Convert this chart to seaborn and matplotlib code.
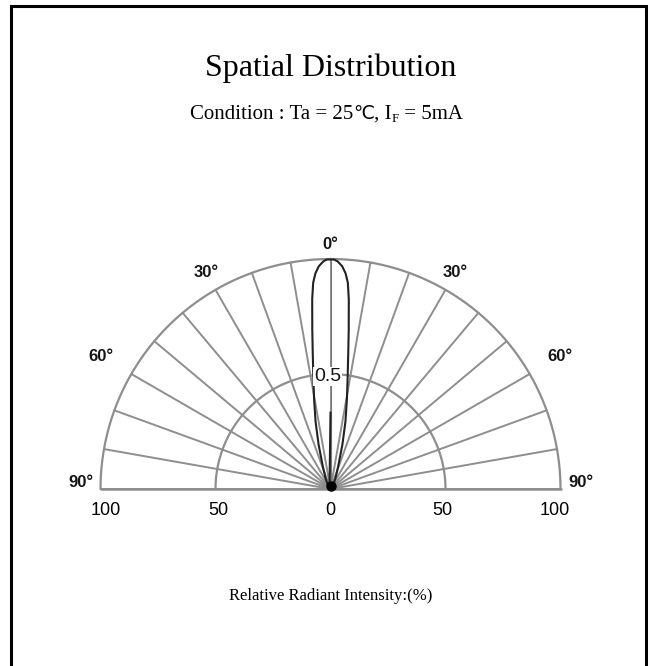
import numpy as np
import pandas as pd
import matplotlib
matplotlib.use("Agg")
import matplotlib.pyplot as plt
import seaborn as sns
from matplotlib.patches import Rectangle

sns.set_style("white")
plt.rcParams['text.color'] = 'black'

# lobe (one side, symmetric)
angle_deg = [0, 0.9, 1.8, 3, 4, 4.8, 5.5, 6.5, 7.4, 8.6, 10.3, 12.5, 15, 19, 25, 35, 60, 90]
rel_intensity = [1.0, 0.998, 0.99, 0.97, 0.94, 0.90, 0.83, 0.70, 0.60, 0.50, 0.40, 0.30,
                 0.20, 0.10, 0.05, 0.02, 0.005, 0.0]

grid_angles = list(range(-90, 91, 10))
grid_radii = [0.5, 1.0]
angle_labels = ['90°', '60°', '30°', '0°', '30°', '60°', '90°']
angle_label_pos = [-90, -60, -30, 0, 30, 60, 90]
angle_label_rad = [1.087, 1.15, 1.085, 1.065, 1.085, 1.15, 1.087]
x_tick_vals = [-1.0, -0.5, 0.0, 0.5, 1.0]
x_tick_labels = ['100', '50', '0', '50', '100']

W, H = 650, 666
fig = plt.figure(figsize=(W / 100, H / 100), dpi=100)

# border around the figure
fig.patches.append(Rectangle((11 / W, -0.01), (646 - 11) / W, 1 - 6 / H + 0.01,
                             transform=fig.transFigure, fill=False,
                             edgecolor='black', linewidth=2.2))

cx, cy, R = 330.5, 489, 230
xl, yb, yt = 1.25, 0.2, 1.15
ax = fig.add_axes([(cx - xl * R) / W, (H - (cy + yb * R)) / H,
                   2 * xl * R / W, (yb + yt) * R / H])
ax.set_xlim(-xl, xl)
ax.set_ylim(-yb, yt)
ax.set_aspect('equal')
ax.axis('off')

grid_col = '#8e8e8e'
t = np.linspace(-np.pi / 2, np.pi / 2, 300)
for r in grid_radii:
    ax.plot(r * np.sin(t), r * np.cos(t), color=grid_col, lw=1.6, zorder=1)
for a in grid_angles:
    th = np.radians(a)
    ax.plot([0, np.sin(th)], [0, np.cos(th)], color=grid_col, lw=1.4, zorder=1)
ax.plot([-1, 1], [0, 0], color=grid_col, lw=1.8, zorder=1)

# full lobe from the one-sided data
ang = np.array(angle_deg, dtype=float)
val = np.array(rel_intensity)
full_ang = np.concatenate([-ang[::-1], ang[1:]])
full_val = np.concatenate([val[::-1], val[1:]])
th = np.radians(full_ang)
df = pd.DataFrame({'x': full_val * np.sin(th), 'y': full_val * np.cos(th)})
sns.lineplot(data=df, x='x', y='y', sort=False, color='#222222', lw=1.5, ax=ax, zorder=3)
ax.plot([0], [0.015], marker='o', ms=6.5, color='black', zorder=4)

lab_font = ['Liberation Sans', 'DejaVu Sans']
for a, s, rr in zip(angle_label_pos, angle_labels, angle_label_rad):
    th = np.radians(a)
    yy = rr * np.cos(th) + (0.03 if abs(a) == 90 else 0)
    ax.text(rr * np.sin(th), yy, s, ha='center', va='center', fontsize=12,
            fontweight='bold', family=lab_font, color='#151515')

ax.text(-0.012, 0.49, '0.5', ha='center', va='center', fontsize=14,
        family=lab_font, color='#151515',
        bbox=dict(boxstyle='square,pad=0.05', fc='white', ec='none'), zorder=5)

for xv, s in zip(x_tick_vals, x_tick_labels):
    ax.text(xv * 0.976, -0.092, s, ha='center', va='center', fontsize=13,
            family=lab_font, color='black')

serif = ['Liberation Serif', 'DejaVu Serif']
fig.text(331 / W, 1 - 68 / H, 'Spatial Distribution', ha='center', va='center',
         fontsize=23, family=serif)

# condition line: pieces so the subscript F and the ℃ sign both render
cond_fs = 15
t1 = fig.text(190 / W, 1 - 119 / H, 'Condition : Ta = 25', ha='left',
              va='baseline', fontsize=cond_fs, family=serif)
tc = fig.text(0, 0, '℃', fontsize=cond_fs * 0.9, family=['DejaVu Sans'], va='baseline')
t1b = fig.text(0, 0, ', I', fontsize=cond_fs, family=serif, va='baseline')
t2 = fig.text(0, 0, 'F', fontsize=cond_fs * 0.62, family=serif, va='baseline')
t3 = fig.text(0, 0, ' = 5mA', fontsize=cond_fs, family=serif, va='baseline')
rend = fig.canvas.get_renderer()
prev = t1
for piece, yb_px in [(tc, 119), (t1b, 119), (t2, 122), (t3, 119)]:
    fig.canvas.draw()
    bb = prev.get_window_extent(rend)
    piece.set_position((bb.x1 / W, 1 - yb_px / H))
    prev = piece

fig.text(331 / W, 1 - 596 / H, 'Relative Radiant Intensity:(%)', ha='center',
         va='center', fontsize=12, family=serif)

fig.savefig('out.png', dpi=100)
